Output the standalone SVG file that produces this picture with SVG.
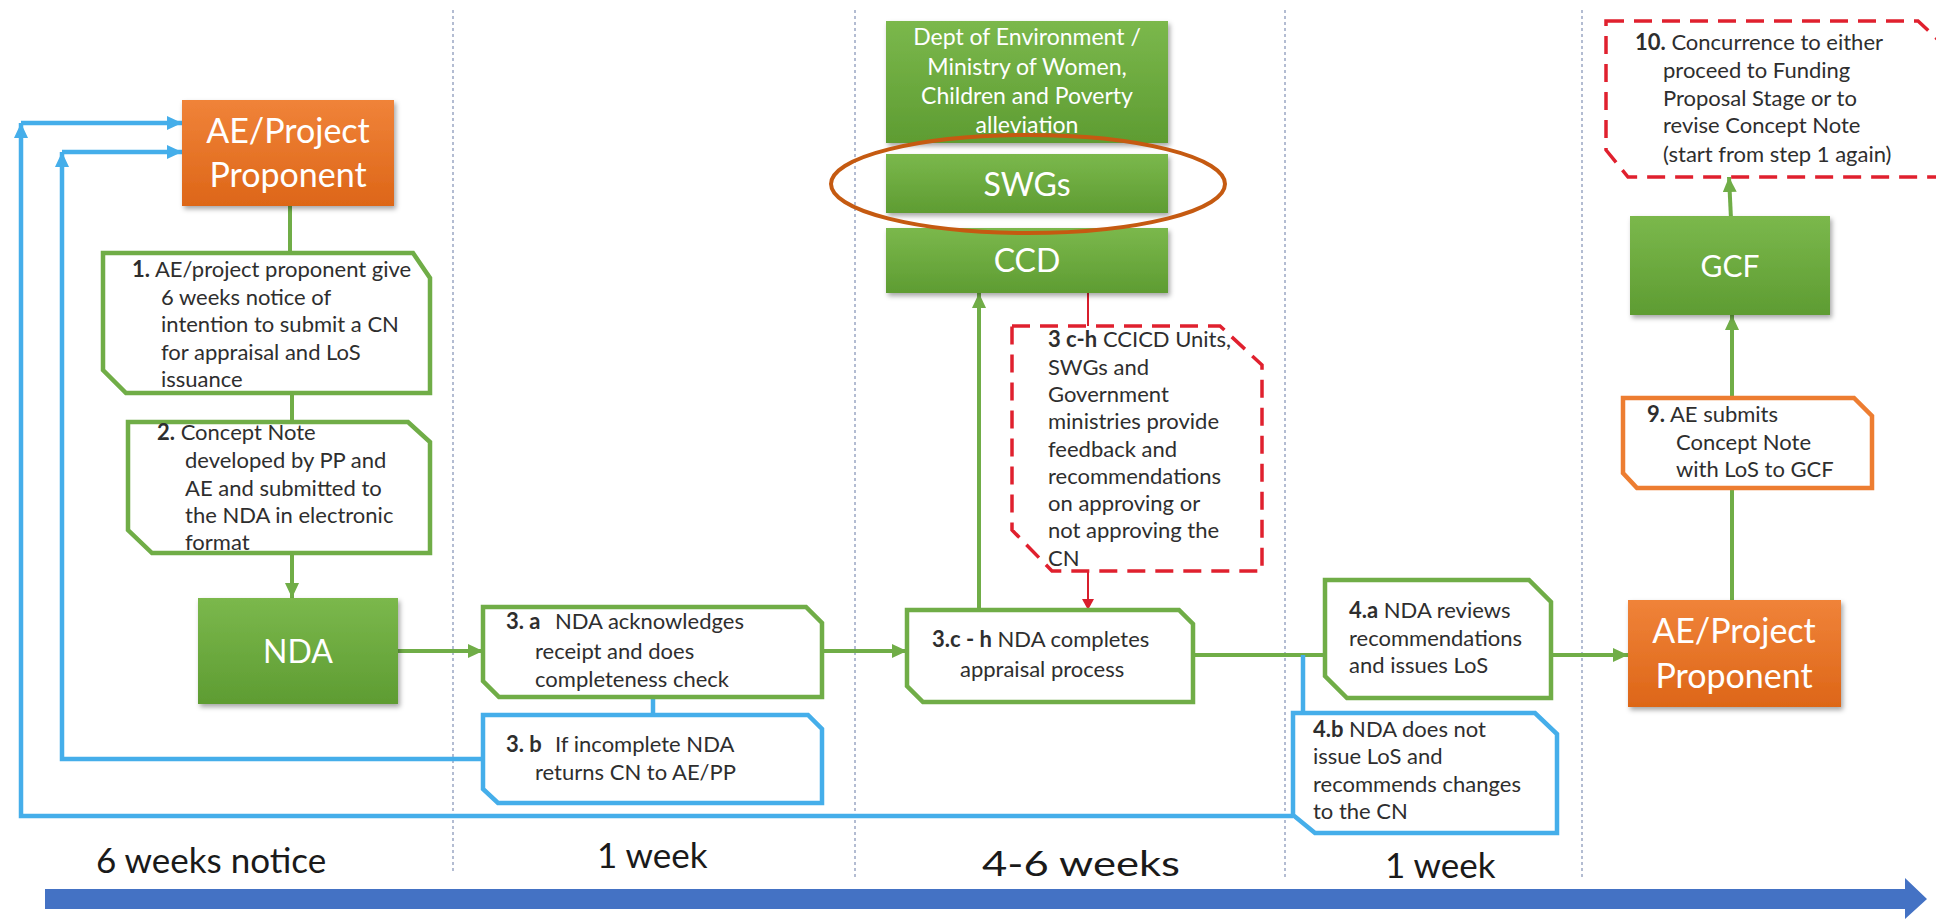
<svg xmlns="http://www.w3.org/2000/svg" width="1936" height="920" viewBox="0 0 1936 920">
<style>
  .t { font-family: Lato, "Liberation Sans", sans-serif; font-size: 22px; fill: #2e2e2e; }
  .b { font-weight: bold; }
  .w { font-family: Lato, "Liberation Sans", sans-serif; fill: #ffffff; text-anchor: middle; }
  .big { font-size: 32px; }
  .ae { font-size: 34px; }
  .tl { font-family: Lato, "Liberation Sans", sans-serif; font-size: 35px; fill: #1a1a1a; }
  .gbox { fill: #ffffff; stroke: #70AD47; stroke-width: 4.5; stroke-linejoin: miter; }
  .bbox { fill: #ffffff; stroke: #45AEEA; stroke-width: 4.5; }
  .obox { fill: #ffffff; stroke: #ED7D31; stroke-width: 4.5; }
  .rbox { fill: #ffffff; stroke: #E0202E; stroke-width: 3.5; stroke-dasharray: 18 10; }
  .gl { fill: none; stroke: #70AD47; stroke-width: 4; }
  .bl { fill: none; stroke: #45AEEA; stroke-width: 4.5; }
  .rl { fill: none; stroke: #D81E2C; stroke-width: 2; }
  .div { stroke: #9AA6C4; stroke-width: 1.5; stroke-dasharray: 3 3; }
</style>
<defs>
  <linearGradient id="gg" x1="0" y1="0" x2="0" y2="1">
    <stop offset="0" stop-color="#7BB84C"/>
    <stop offset="1" stop-color="#5E9C32"/>
  </linearGradient>
  <linearGradient id="og" x1="0" y1="0" x2="0" y2="1">
    <stop offset="0" stop-color="#F08339"/>
    <stop offset="1" stop-color="#DD6618"/>
  </linearGradient>
  <filter id="sh" x="-10%" y="-10%" width="125%" height="135%">
    <feDropShadow dx="2" dy="3" stdDeviation="2.5" flood-color="#000000" flood-opacity="0.35"/>
  </filter>
  <marker id="ag" markerUnits="userSpaceOnUse" markerWidth="16" markerHeight="14" refX="15" refY="7" orient="auto">
    <path d="M0,0 L15,7 L0,14 z" fill="#70AD47"/>
  </marker>
  <marker id="ab" markerUnits="userSpaceOnUse" markerWidth="16" markerHeight="14" refX="15" refY="7" orient="auto">
    <path d="M0,0 L15,7 L0,14 z" fill="#45AEEA"/>
  </marker>
  <marker id="ar" markerUnits="userSpaceOnUse" markerWidth="12" markerHeight="12" refX="11" refY="6" orient="auto">
    <path d="M0,0 L11,6 L0,12 z" fill="#D81E2C"/>
  </marker>
</defs>

<rect width="1936" height="920" fill="#ffffff"/>

<g id="dividers">
  <line class="div" x1="453" y1="10" x2="453" y2="872"/>
  <line class="div" x1="855" y1="10" x2="855" y2="878"/>
  <line class="div" x1="1285" y1="10" x2="1285" y2="878"/>
  <line class="div" x1="1582" y1="10" x2="1582" y2="878"/>
</g>

<g id="connectors">
  <line class="gl" x1="290" y1="206" x2="290" y2="253"/>
  <line class="gl" x1="292" y1="393" x2="292" y2="422"/>
  <line class="gl" x1="292" y1="553" x2="292" y2="598" marker-end="url(#ag)"/>
  <line class="gl" x1="398" y1="651" x2="483" y2="651" marker-end="url(#ag)"/>
  <line class="gl" x1="822" y1="651" x2="907" y2="651" marker-end="url(#ag)"/>
  <line class="gl" x1="979" y1="610" x2="979" y2="293" marker-end="url(#ag)"/>
  <line class="gl" x1="1193" y1="655" x2="1325" y2="655"/>
  <line class="gl" x1="1551" y1="655" x2="1628" y2="655" marker-end="url(#ag)"/>
  <line class="gl" x1="1732" y1="600" x2="1732" y2="488"/>
  <line class="gl" x1="1732" y1="398" x2="1732" y2="315" marker-end="url(#ag)"/>
  <line class="gl" x1="1732" y1="240" x2="1729" y2="177" marker-end="url(#ag)"/>
  <line class="bl" x1="653" y1="697" x2="653" y2="715"/>
  <line class="bl" x1="1303" y1="655" x2="1303" y2="713"/>
  <polyline class="bl" points="483,759 62,759 62,152" marker-end="url(#ab)"/>
  <line class="bl" x1="62" y1="152" x2="182" y2="152" marker-end="url(#ab)"/>
  <polyline class="bl" points="1293,816 21,816 21,123" marker-end="url(#ab)"/>
  <line class="bl" x1="21" y1="123" x2="182" y2="123" marker-end="url(#ab)"/>
  <line class="rl" x1="1088" y1="293" x2="1088" y2="326"/>
  <line class="rl" x1="1088" y1="571" x2="1088" y2="610" marker-end="url(#ar)"/>
</g>

<g id="ae-left">
  <rect x="182" y="100" width="212" height="106" fill="url(#og)" filter="url(#sh)"/>
  <text class="w ae" x="288" y="143">AE/Project</text>
  <text class="w ae" x="288" y="187">Proponent</text>
</g>

<g id="step1">
  <polygon class="gbox" points="103,253 413,253 430,278 430,393 126,393 103,370"/>
  <text class="t"><tspan x="132" y="277"><tspan class="b">1.</tspan> AE/project proponent give</tspan><tspan x="161" y="305">6 weeks notice of</tspan><tspan x="161" y="332">intention to submit a CN</tspan><tspan x="161" y="360">for appraisal and LoS</tspan><tspan x="161" y="387">issuance</tspan></text>
</g>

<g id="step2">
  <polygon class="gbox" points="128,422 408,422 430,442 430,553 152,553 128,530"/>
  <text class="t"><tspan x="157" y="440"><tspan class="b">2.</tspan> Concept Note</tspan><tspan x="185" y="468">developed by PP and</tspan><tspan x="185" y="496">AE and submitted to</tspan><tspan x="185" y="523">the NDA in electronic</tspan><tspan x="185" y="550">format</tspan></text>
</g>

<g id="nda">
  <rect x="198" y="598" width="200" height="106" fill="url(#gg)" filter="url(#sh)"/>
  <text class="w big" x="298" y="663">NDA</text>
</g>

<g id="step3a">
  <polygon class="gbox" points="483,607 806,607 822,623 822,697 499,697 483,681"/>
  <text class="t"><tspan x="506" y="629" class="b">3. a</tspan><tspan x="555" y="629">NDA acknowledges</tspan><tspan x="535" y="659">receipt and does</tspan><tspan x="535" y="687">completeness check</tspan></text>
</g>

<g id="step3b">
  <polygon class="bbox" points="483,715 808,715 822,729 822,803 498,803 483,789"/>
  <text class="t"><tspan x="506" y="752" class="b">3. b</tspan><tspan x="555" y="752">If incomplete NDA</tspan><tspan x="535" y="780">returns CN to AE/PP</tspan></text>
</g>

<g id="step3ch">
  <polygon class="gbox" points="907,610 1179,610 1193,624 1193,702 923,702 907,686"/>
  <text class="t"><tspan x="932" y="647"><tspan class="b">3.c - h</tspan> NDA completes</tspan><tspan x="960" y="677">appraisal process</tspan></text>
</g>

<g id="dept">
  <rect x="886" y="21" width="282" height="122" fill="url(#gg)" filter="url(#sh)"/>
  <text class="w" font-size="23" x="1027" y="45">Dept of Environment /</text>
  <text class="w" font-size="23" x="1027" y="75">Ministry of Women,</text>
  <text class="w" font-size="23" x="1027" y="104">Children and Poverty</text>
  <text class="w" font-size="23" x="1027" y="133">alleviation</text>
</g>

<g id="swgs">
  <rect x="886" y="154" width="282" height="59" fill="url(#gg)" filter="url(#sh)"/>
  <text class="w big" x="1027" y="196">SWGs</text>
</g>

<g id="ccd">
  <rect x="886" y="228" width="282" height="65" fill="url(#gg)" filter="url(#sh)"/>
  <text class="w big" x="1027" y="272">CCD</text>
</g>

<g id="highlight">
  <ellipse cx="1028" cy="184" rx="197" ry="49" fill="none" stroke="#C55A11" stroke-width="4"/>
</g>

<g id="feedback">
  <polygon class="rbox" points="1012,326 1220,326 1262,365 1262,571 1052,571 1012,530"/>
  <text class="t"><tspan x="1048" y="347"><tspan class="b">3 c-h</tspan> CCICD Units,</tspan><tspan x="1048" y="375">SWGs and</tspan><tspan x="1048" y="402">Government</tspan><tspan x="1048" y="429">ministries provide</tspan><tspan x="1048" y="457">feedback and</tspan><tspan x="1048" y="484">recommendations</tspan><tspan x="1048" y="511">on approving or</tspan><tspan x="1048" y="538">not approving the</tspan><tspan x="1048" y="566">CN</tspan></text>
</g>

<g id="step4a">
  <polygon class="gbox" points="1325,580 1529,580 1551,602 1551,698 1347,698 1325,676"/>
  <text class="t"><tspan x="1349" y="618"><tspan class="b">4.a</tspan> NDA reviews</tspan><tspan x="1349" y="646">recommendations</tspan><tspan x="1349" y="673">and issues LoS</tspan></text>
</g>

<g id="step4b">
  <polygon class="bbox" points="1293,713 1535,713 1557,734 1557,833 1315,833 1293,815"/>
  <text class="t"><tspan x="1313" y="737"><tspan class="b">4.b</tspan> NDA does not</tspan><tspan x="1313" y="764">issue LoS and</tspan><tspan x="1313" y="792">recommends changes</tspan><tspan x="1313" y="819">to the CN</tspan></text>
</g>

<g id="ae-right">
  <rect x="1628" y="600" width="213" height="107" fill="url(#og)" filter="url(#sh)"/>
  <text class="w ae" x="1734" y="643">AE/Project</text>
  <text class="w ae" x="1734" y="688">Proponent</text>
</g>

<g id="step9">
  <polygon class="obox" points="1623,398 1854,398 1872,416 1872,488 1637,488 1623,473"/>
  <text class="t"><tspan x="1647" y="422"><tspan class="b">9.</tspan> AE submits</tspan><tspan x="1676" y="450">Concept Note</tspan><tspan x="1676" y="477">with LoS to GCF</tspan></text>
</g>

<g id="gcf">
  <rect x="1630" y="216" width="200" height="99" fill="url(#gg)" filter="url(#sh)"/>
  <text class="w" font-size="30" x="1730" y="277">GCF</text>
</g>

<g id="step10">
  <polygon class="rbox" points="1606,21 1918,21 1962,62 1962,177 1628,177 1606,150"/>
  <text class="t"><tspan x="1635" y="50"><tspan class="b">10.</tspan> Concurrence to either</tspan><tspan x="1663" y="78">proceed to Funding</tspan><tspan x="1663" y="106">Proposal Stage or to</tspan><tspan x="1663" y="133">revise Concept Note</tspan><tspan x="1663" y="162">(start from step 1 again)</tspan></text>
</g>

<g id="timeline">
  <polygon points="45,889 1905,889 1905,878 1927,899 1905,919 1905,909 45,909" fill="#4472C4"/>
  <text class="tl" x="96" y="873">6 weeks notice</text>
  <text class="tl" x="597" y="868">1 week</text>
  <text class="tl" x="982" y="876" font-size="36" textLength="198" lengthAdjust="spacingAndGlyphs">4-6 weeks</text>
  <text class="tl" x="1385" y="878">1 week</text>
</g>
</svg>
